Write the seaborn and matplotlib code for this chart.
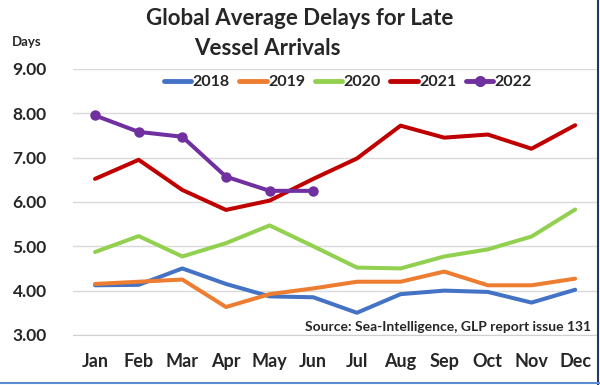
import pandas as pd
import matplotlib.pyplot as plt
import matplotlib.lines as mlines
import seaborn as sns
import numpy as np

# Data
months = ["Jan", "Feb", "Mar", "Apr", "May", "Jun",
          "Jul", "Aug", "Sep", "Oct", "Nov", "Dec"]
years = ["2018", "2019", "2020", "2021", "2022"]
delays_2018 = [4.12, 4.13, 4.50, 4.15, 3.87, 3.85, 3.50, 3.92, 4.00, 3.97, 3.73, 4.02]
delays_2019 = [4.15, 4.20, 4.25, 3.63, 3.92, 4.05, 4.20, 4.20, 4.43, 4.12, 4.12, 4.27]
delays_2020 = [4.87, 5.23, 4.77, 5.07, 5.47, 5.00, 4.52, 4.50, 4.77, 4.93, 5.22, 5.83]
delays_2021 = [6.52, 6.95, 6.27, 5.82, 6.03, 6.52, 6.98, 7.72, 7.45, 7.52, 7.20, 7.73]
delays_2022 = [7.95, 7.58, 7.47, 6.57, 6.25, 6.25]
y_ticks = [3.0, 4.0, 5.0, 6.0, 7.0, 8.0, 9.0]

colors = {"2018": "#4472C4", "2019": "#ED7D31", "2020": "#92D050",
          "2021": "#C00000", "2022": "#7030A0"}

def main():
    series = dict(zip(years, [delays_2018, delays_2019, delays_2020,
                              delays_2021, delays_2022]))
    records = []
    for yr, vals in series.items():
        for i, v in enumerate(vals):
            records.append({"year": yr, "month": i, "days": v})
    df = pd.DataFrame(records)

    sns.set_style("white")
    plt.rcParams["font.family"] = ["Lato", "DejaVu Sans"]
    plt.rcParams["font.weight"] = "bold"

    fig = plt.figure(figsize=(6, 3.85), dpi=100)
    ax = fig.add_axes([0.122, 0.130, 0.873, 0.691])

    for yr in years:
        sub = df[df["year"] == yr]
        sns.lineplot(data=sub, x="month", y="days", ax=ax, color=colors[yr],
                     linewidth=2.9, marker="o" if yr == "2022" else None,
                     markersize=7.5, markeredgewidth=0, label=yr, zorder=3)

    ax.set_xlim(-0.5, 11.5)
    ax.set_ylim(3, 9)
    ax.set_yticks(y_ticks)
    ax.set_yticklabels([f"{v:.2f}" for v in y_ticks], fontsize=12.5, fontweight="bold")
    ax.set_xticks(np.arange(12))
    ax.set_xticklabels(months, fontsize=13, fontweight="bold")
    ax.set_xticks(np.arange(-0.5, 12, 1), minor=True)
    ax.tick_params(axis="x", which="major", length=0, pad=13)
    ax.tick_params(axis="x", which="minor", length=6, direction="in",
                   color="#D0D0D0", width=1)
    ax.tick_params(axis="y", length=0, pad=19)
    ax.set_xlabel("")
    ax.set_ylabel("")
    ax.grid(axis="y", color="#D9D9D9", linewidth=1)
    for side in ["top", "right", "left"]:
        ax.spines[side].set_visible(False)
    ax.spines["bottom"].set_color("#D0D0D0")

    handles = []
    for yr in years:
        handles.append(mlines.Line2D([], [], color=colors[yr], linewidth=3.5,
                                     marker="o" if yr == "2022" else None,
                                     markersize=7))
    ax.legend(handles, years, ncol=5, frameon=False, loc="center",
              bbox_to_anchor=(0.58, 0.787), bbox_transform=fig.transFigure,
              prop={"weight": "bold", "size": 11.5}, handlelength=1.7,
              handletextpad=0.1, columnspacing=0.6)

    fig.text(0.5, 0.953, "Global Average Delays for Late", ha="center", va="center",
             fontsize=16, fontweight="bold")
    fig.text(0.445, 0.875, "Vessel Arrivals", ha="center", va="center",
             fontsize=16, fontweight="bold")
    fig.text(0.02, 0.89, "Days", ha="left", va="center", fontsize=9.5, fontweight="bold")
    fig.text(0.985, 0.151, "Source: Sea-Intelligence, GLP report issue 131",
             ha="right", va="center", fontsize=10, fontweight="bold")

    # frame edges like the pasted slide image
    fig.add_artist(mlines.Line2D([0.997, 0.997], [0.0, 1.0], color="#1F3864",
                                 linewidth=1.5, transform=fig.transFigure))
    fig.add_artist(mlines.Line2D([0.0, 1.0], [0.006, 0.006], color="#5B8BD0",
                                 linewidth=1.5, transform=fig.transFigure))

    fig.savefig("out.png", dpi=100)

if __name__ == "__main__":
    main()
